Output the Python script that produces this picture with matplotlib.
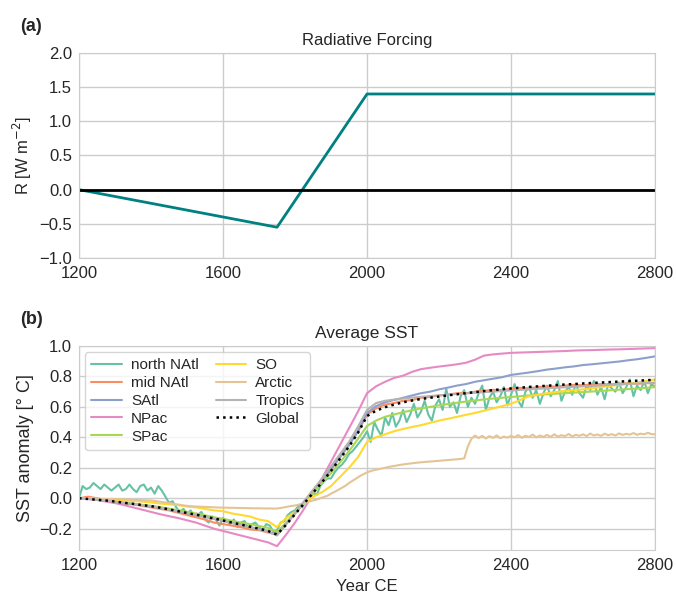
import matplotlib
matplotlib.use("Agg")
import matplotlib.pyplot as plt
import numpy as np
import seaborn as sns

# radiative forcing scenario (piecewise)
forcing_years = [1200, 1750, 2000, 2800]
forcing_values = [0.0, -0.55, 1.4, 1.4]

# basin-mean SST anomalies, 25-year spacing
years = np.arange(1200, 2801, 25)

mid_natl = [
    0.000, 0.010, 0.000, -0.015, -0.025, -0.035, -0.040, -0.050, -0.060, -0.070,
    -0.080, -0.095, -0.110, -0.125, -0.140, -0.160, -0.170, -0.180, -0.190, -0.205,
    -0.210, -0.225, -0.240,
    -0.170, -0.100, -0.030, 0.040, 0.110, 0.190, 0.270, 0.350, 0.440, 0.550,
    0.590, 0.615, 0.625, 0.640, 0.645, 0.660, 0.665, 0.675, 0.680, 0.690,
    0.690, 0.700, 0.705, 0.712, 0.710, 0.720, 0.725, 0.722, 0.730, 0.735,
    0.733, 0.740, 0.745, 0.742, 0.748, 0.750, 0.748, 0.752, 0.755, 0.752,
    0.756, 0.755,
]
satl = [
    0.000, -0.004, -0.009, -0.015, -0.022, -0.030, -0.038, -0.046, -0.054, -0.064,
    -0.075, -0.087, -0.099, -0.110, -0.122, -0.135, -0.148, -0.162, -0.175, -0.189,
    -0.202, -0.217, -0.240,
    -0.170, -0.100, -0.030, 0.040, 0.110, 0.190, 0.270, 0.350, 0.440, 0.560,
    0.605, 0.630, 0.645, 0.660, 0.675, 0.690, 0.700, 0.715, 0.727, 0.740,
    0.750, 0.765, 0.775, 0.785, 0.795, 0.810, 0.818, 0.826, 0.835, 0.845,
    0.852, 0.860, 0.866, 0.875, 0.880, 0.886, 0.892, 0.898, 0.906, 0.913,
    0.922, 0.932,
]
npac = [
    0.000, -0.005, -0.012, -0.022, -0.032, -0.045, -0.060, -0.075, -0.090, -0.105,
    -0.118, -0.130, -0.145, -0.160, -0.180, -0.200, -0.215, -0.230, -0.245, -0.260,
    -0.275, -0.290, -0.315,
    -0.240, -0.160, -0.070, 0.030, 0.130, 0.240, 0.350, 0.460, 0.570, 0.690,
    0.735, 0.765, 0.790, 0.805, 0.830, 0.848, 0.857, 0.865, 0.872, 0.880,
    0.890, 0.910, 0.937, 0.945, 0.950, 0.955, 0.957, 0.959, 0.961, 0.963,
    0.965, 0.967, 0.970, 0.972, 0.973, 0.975, 0.977, 0.978, 0.980, 0.982,
    0.984, 0.986,
]
spac = [
    0.000, -0.003, -0.008, -0.013, -0.020, -0.027, -0.035, -0.043, -0.050, -0.058,
    -0.068, -0.078, -0.090, -0.100, -0.112, -0.125, -0.135, -0.148, -0.160, -0.170,
    -0.182, -0.195, -0.222,
    -0.160, -0.095, -0.030, 0.035, 0.100, 0.165, 0.235, 0.310, 0.390, 0.475,
    0.510, 0.535, 0.550, 0.565, 0.578, 0.590, 0.600, 0.610, 0.619, 0.627,
    0.635, 0.642, 0.649, 0.655, 0.660, 0.665, 0.670, 0.675, 0.679, 0.683,
    0.687, 0.690, 0.694, 0.697, 0.701, 0.705, 0.709, 0.713, 0.717, 0.720,
    0.725, 0.730,
]
so = [
    0.000, 0.000, -0.005, -0.008, -0.010, -0.015, -0.018, -0.022, -0.028, -0.035,
    -0.040, -0.045, -0.055, -0.060, -0.070, -0.080, -0.085, -0.100, -0.110, -0.120,
    -0.140, -0.150, -0.190,
    -0.130, -0.090, -0.030, 0.010, 0.040, 0.080, 0.140, 0.200, 0.270, 0.370,
    0.400, 0.420, 0.440, 0.455, 0.468, 0.480, 0.495, 0.510, 0.522, 0.535,
    0.548, 0.560, 0.575, 0.590, 0.605, 0.620, 0.645, 0.670, 0.680, 0.690,
    0.698, 0.705, 0.710, 0.715, 0.722, 0.730, 0.737, 0.745, 0.752, 0.760,
    0.770, 0.780,
]
tropics = [
    0.000, -0.005, -0.010, -0.016, -0.023, -0.031, -0.038, -0.046, -0.054, -0.064,
    -0.075, -0.087, -0.099, -0.111, -0.123, -0.136, -0.149, -0.163, -0.177, -0.191,
    -0.205, -0.220, -0.245,
    -0.170, -0.095, -0.020, 0.055, 0.130, 0.210, 0.290, 0.370, 0.470, 0.580,
    0.625, 0.640, 0.648, 0.655, 0.661, 0.666, 0.671, 0.676, 0.681, 0.685,
    0.689, 0.693, 0.697, 0.700, 0.704, 0.708, 0.712, 0.715, 0.719, 0.722,
    0.726, 0.729, 0.732, 0.735, 0.738, 0.741, 0.745, 0.748, 0.751, 0.754,
    0.757, 0.760,
]
global_mean = [
    0.000, -0.005, -0.010, -0.015, -0.022, -0.030, -0.037, -0.045, -0.052, -0.062,
    -0.073, -0.085, -0.097, -0.108, -0.120, -0.133, -0.146, -0.160, -0.173, -0.187,
    -0.200, -0.215, -0.238,
    -0.175, -0.105, -0.035, 0.035, 0.105, 0.180, 0.260, 0.340, 0.430, 0.540,
    0.575, 0.598, 0.615, 0.630, 0.642, 0.652, 0.660, 0.668, 0.676, 0.683,
    0.690, 0.697, 0.704, 0.710, 0.716, 0.721, 0.726, 0.731, 0.735, 0.739,
    0.743, 0.747, 0.750, 0.754, 0.757, 0.760, 0.763, 0.766, 0.769, 0.772,
    0.775, 0.778,
]

# noisier basins, 10-year spacing
years_10 = np.arange(1200, 2801, 10)

north_natl = [
    0.00, 0.08, 0.06, 0.07, 0.10, 0.08, 0.06, 0.09, 0.07, 0.05,
    0.07, 0.09, 0.05, 0.06, 0.09, 0.06, 0.04, 0.08, 0.09, 0.05,
    0.07, 0.03, 0.08, 0.05, 0.01, -0.03, -0.02, -0.06, -0.09, -0.07,
    -0.10, -0.08, -0.12, -0.11, -0.09, -0.14, -0.16, -0.12, -0.14, -0.18,
    -0.13, -0.15, -0.17, -0.14, -0.19, -0.16, -0.15, -0.20, -0.17, -0.16,
    -0.19, -0.21, -0.17, -0.18, -0.22, -0.21, -0.16, -0.15, -0.11, -0.09,
    -0.08, -0.05, -0.06, -0.01, 0.01, 0.04, 0.02, 0.08, 0.11, 0.13,
    0.13, 0.17, 0.20, 0.22, 0.25, 0.29, 0.31, 0.34, 0.37, 0.40,
    0.44, 0.37, 0.50, 0.45, 0.41, 0.53, 0.48, 0.56, 0.47, 0.51,
    0.58, 0.50, 0.55, 0.62, 0.53, 0.57, 0.64, 0.55, 0.51, 0.61,
    0.65, 0.58, 0.72, 0.60, 0.63, 0.56, 0.67, 0.71, 0.60, 0.66,
    0.62, 0.69, 0.74, 0.58, 0.66, 0.70, 0.63, 0.67, 0.73, 0.61,
    0.68, 0.75, 0.64, 0.60, 0.70, 0.73, 0.66, 0.71, 0.62, 0.69,
    0.74, 0.67, 0.71, 0.77, 0.64, 0.70, 0.73, 0.68, 0.75, 0.69,
    0.66, 0.74, 0.71, 0.77, 0.68, 0.73, 0.65, 0.75, 0.72, 0.70,
    0.76, 0.69, 0.73, 0.78, 0.67, 0.74, 0.71, 0.77, 0.69, 0.75,
    0.73,
]
arctic = [
    0.000, -0.001, -0.002, -0.002, -0.003, -0.003, -0.004, -0.004, -0.005, -0.005,
    -0.005, -0.006, -0.007, -0.008, -0.009, -0.010, -0.011, -0.012, -0.013, -0.014,
    -0.015, -0.018, -0.021, -0.025, -0.028, -0.032, -0.036, -0.040, -0.043, -0.047,
    -0.050, -0.052, -0.054, -0.055, -0.056, -0.057, -0.058, -0.059, -0.060, -0.061,
    -0.062, -0.062, -0.063, -0.063, -0.064, -0.064, -0.065, -0.065, -0.066, -0.066,
    -0.066, -0.067, -0.067, -0.067, -0.068, -0.068, -0.064, -0.060, -0.055, -0.051,
    -0.048, -0.042, -0.036, -0.029, -0.022, -0.015, -0.008, 0.000, 0.008, 0.016,
    0.030, 0.042, 0.055, 0.068, 0.082, 0.100, 0.115, 0.130, 0.145, 0.158,
    0.170, 0.178, 0.185, 0.190, 0.195, 0.200, 0.205, 0.210, 0.214, 0.218,
    0.222, 0.225, 0.228, 0.231, 0.234, 0.236, 0.238, 0.240, 0.242, 0.244,
    0.246, 0.248, 0.250, 0.252, 0.254, 0.256, 0.258, 0.262, 0.340, 0.390,
    0.412, 0.395, 0.410, 0.392, 0.408, 0.396, 0.413, 0.394, 0.405, 0.398,
    0.410, 0.400, 0.415, 0.397, 0.411, 0.402, 0.418, 0.400, 0.412, 0.404,
    0.416, 0.403, 0.420, 0.405, 0.414, 0.408, 0.422, 0.406, 0.417, 0.410,
    0.420, 0.408, 0.425, 0.412, 0.419, 0.410, 0.424, 0.414, 0.421, 0.412,
    0.426, 0.416, 0.423, 0.418, 0.428, 0.417, 0.424, 0.420, 0.430, 0.421,
    0.420,
]

sns.set_style("whitegrid")
plt.rcParams["font.family"] = ["Liberation Sans", "DejaVu Sans"]
plt.rcParams["axes.edgecolor"] = "0.8"
plt.rcParams["text.color"] = "0.15"
plt.rcParams["axes.labelcolor"] = "0.15"

pal = sns.color_palette("Set2", 8)

fig = plt.figure(figsize=(6.76, 5.94), dpi=100)
ax1 = fig.add_axes([0.1169, 0.5657, 0.8521, 0.3451])
ax2 = fig.add_axes([0.1169, 0.0741, 0.8521, 0.3434])

# (a) forcing
ax1.plot(forcing_years, forcing_values, color="teal", lw=2)
ax1.axhline(0, color="black", lw=2)
ax1.set_xlim(1200, 2800)
ax1.set_ylim(-1, 2)
ax1.set_xticks([1200, 1600, 2000, 2400, 2800])
ax1.set_yticks(np.arange(-1, 2.01, 0.5))
ax1.set_ylabel(r"R [W m$^{-2}$]", fontsize=12)
ax1.set_title("Radiative Forcing", fontsize=12)

# (b) SST
series = [
    (years_10, north_natl, "north NAtl", pal[0]),
    (years, mid_natl, "mid NAtl", pal[1]),
    (years, satl, "SAtl", pal[2]),
    (years, npac, "NPac", pal[3]),
    (years, spac, "SPac", pal[4]),
    (years, so, "SO", pal[5]),
    (years_10, arctic, "Arctic", pal[6]),
    (years, tropics, "Tropics", pal[7]),
]
for x, y, name, col in series:
    ax2.plot(x, y, color=col, lw=1.5, label=name)
ax2.plot(years, global_mean, color="black", ls=":", lw=1.8, label="Global")

ax2.set_xlim(1200, 2800)
ax2.set_ylim(-0.34, 1.0)
ax2.set_xticks([1200, 1600, 2000, 2400, 2800])
ax2.set_yticks(np.arange(-0.2, 1.01, 0.2))
ax2.set_ylabel("SST anomaly [° C]", fontsize=13)
ax2.set_xlabel("Year CE", fontsize=12)
ax2.set_title("Average SST", fontsize=12.5)
ax2.legend(ncol=2, loc="upper left", fontsize=11, frameon=True,
           handlelength=2.0, handletextpad=0.6, columnspacing=1.1,
           labelspacing=0.25, borderaxespad=0.4)

for ax in (ax1, ax2):
    ax.tick_params(axis="x", labelsize=12, colors="0.15", length=0, pad=6)
    ax.tick_params(axis="y", labelsize=12, colors="0.15", length=0, pad=5)
    ax.grid(True, color="0.8", lw=1)

fig.text(0.03, 0.948, "(a)", fontsize=13, fontweight="bold")
fig.text(0.03, 0.455, "(b)", fontsize=13, fontweight="bold")

fig.savefig("out.png", dpi=100)
